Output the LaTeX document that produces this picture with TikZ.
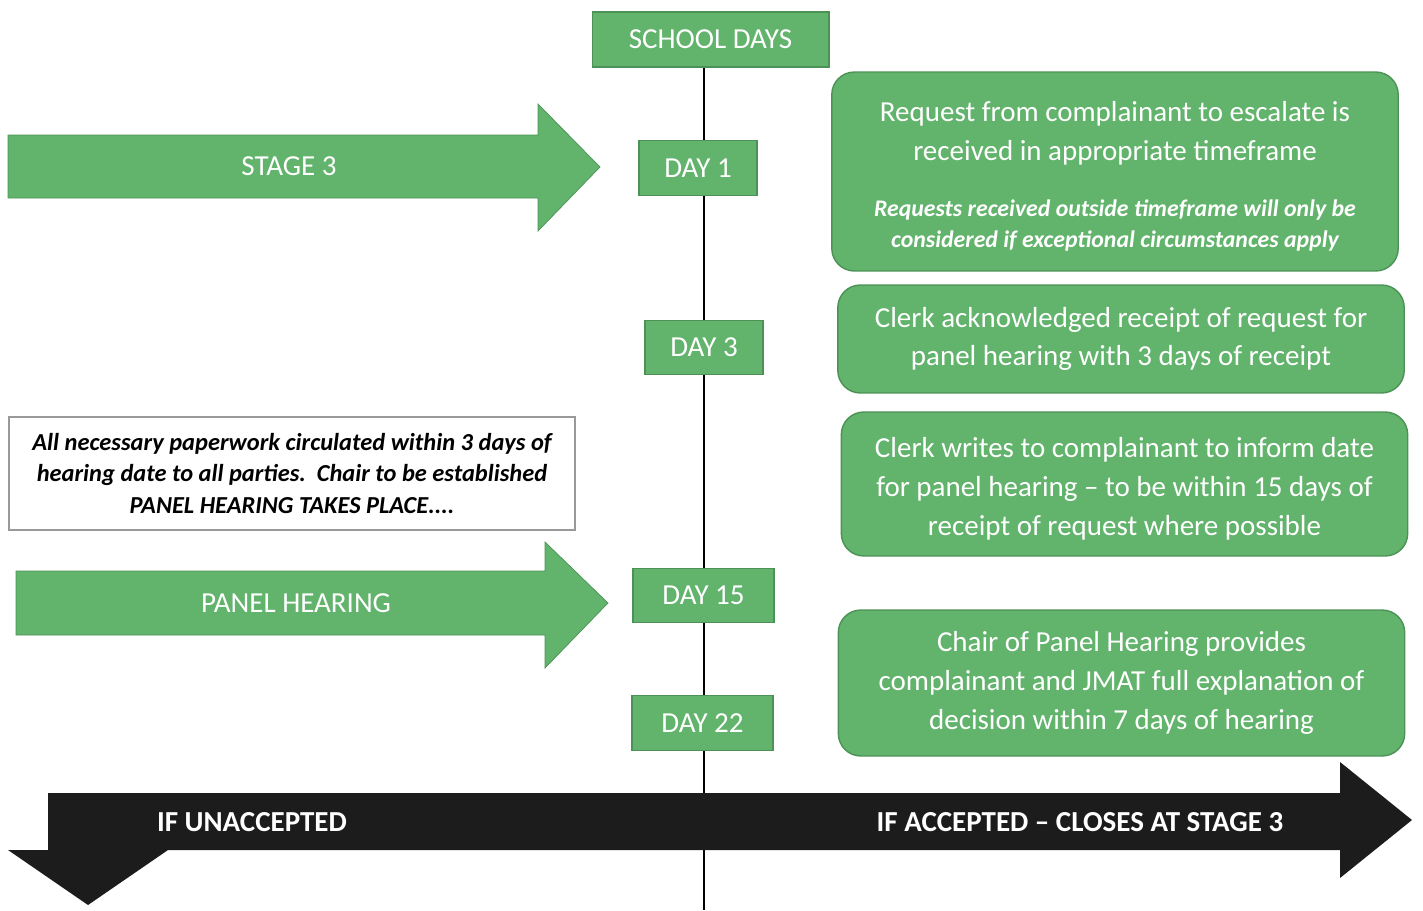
\documentclass[tikz,border=0pt]{standalone}
\usepackage{fontspec}
\setmainfont{Carlito}
\usetikzlibrary{backgrounds}
\definecolor{boxgreen}{RGB}{98,179,108}
\definecolor{edgegreen}{RGB}{76,146,86}
\definecolor{bandblack}{RGB}{28,28,28}
\tikzset{
  daybox/.style={fill=boxgreen, draw=edgegreen, line width=0.6pt, text=white,
    minimum height=1.09cm, inner sep=0pt, font=\fontsize{16.5}{20}\selectfont},
  infobox/.style={fill=boxgreen, draw=edgegreen, line width=0.8pt, rounded corners=0.45cm,
    text=white, align=center, minimum width=11.33cm, inner sep=0pt,
    font=\fontsize{16.5}{22}\selectfont},
  notebox/.style={draw=black!40, line width=0.8pt, align=center, minimum width=11.32cm,
    minimum height=2.26cm, inner sep=0pt, font=\fontsize{13.9}{18}\selectfont\bfseries\itshape},
  arrowtext/.style={text=white, font=\fontsize{16.5}{20}\selectfont},
  bandtext/.style={text=white, font=\fontsize{16.5}{20}\selectfont\bfseries}
}
\newcommand{\smallnote}{\fontsize{13.55}{17.6}\selectfont\bfseries\itshape}

\begin{document}
\begin{tikzpicture}[x=0.02cm, y=-0.02cm]
\useasboundingbox (0,0) rectangle (1423,910);
\coordinate (lineend) at (704,910);
% timeline column
\node[daybox, minimum width=4.74cm, minimum height=1.1cm] (school) at (710.5,39.5) {SCHOOL DAYS};
\foreach \d/\x/\y/\w in {1/698/168/2.36, 3/704/347.5/2.36, 15/703.5/595.5/2.82, 22/702.5/723/2.82}
  \node[daybox, minimum width=\w cm] (day\d) at (\x,\y) {DAY \d};
\begin{scope}[on background layer]
  \draw[line width=1.1pt] (school.south -| lineend) -- (lineend);
\end{scope}
% arrows on the left
\fill[boxgreen, draw=edgegreen, line width=0.4pt] (8,135) -- (538,135) -- (538,104) -- (600,167)
  -- (538,231) -- (538,198) -- (8,198) -- cycle;
\node[arrowtext] (stage) at (289,166) {STAGE 3};
\fill[boxgreen, draw=edgegreen, line width=0.4pt] (16,571) -- (545,571) -- (545,542) -- (608,603)
  -- (545,668) -- (545,635) -- (16,635) -- cycle;
\node[arrowtext] (panel) at (296,603) {PANEL HEARING};
\node[notebox] (paperwork) at (292,473.5)
  {All necessary paperwork circulated within 3 days of\\
   hearing date to all parties.\ \ Chair to be established\\
   PANEL HEARING TAKES PLACE....};
% boxes on the right
\node[infobox, minimum height=3.98cm] (request) at (1115,171.5)
  {\\[-5pt]Request from complainant to escalate is\\
   received in appropriate timeframe\\[10pt]
   {\smallnote Requests received outside timeframe will only be}\\[-4.4pt]
   {\smallnote considered if exceptional circumstances apply}};
\node[infobox, minimum height=2.16cm] (acknowledge) at (1121,339)
  {Clerk acknowledged receipt of request for\\
   panel hearing with 3 days of receipt};
\node[infobox, minimum height=2.88cm] (inform) at (1124.5,484)
  {\\[-5pt]Clerk writes to complainant to inform date\\
   for panel hearing -- to be within 15 days of\\
   receipt of request where possible};
\node[infobox, minimum height=2.92cm] (decision) at (1121.5,683)
  {Chair of Panel Hearing provides\\
   complainant and JMAT full explanation of\\
   decision within 7 days of hearing};
% outcome band
\fill[bandblack] (48,793) -- (1340,793) -- (1340,762) -- (1412,820) -- (1340,878) -- (1340,850)
  -- (168,850) -- (88,905) -- (8,850) -- (48,850) -- cycle;
\node[bandtext] (unaccepted) at (252,822) {IF UNACCEPTED};
\node[bandtext] (accepted) at (1080,822) {IF ACCEPTED -- CLOSES AT STAGE 3};
\end{tikzpicture}
\end{document}
